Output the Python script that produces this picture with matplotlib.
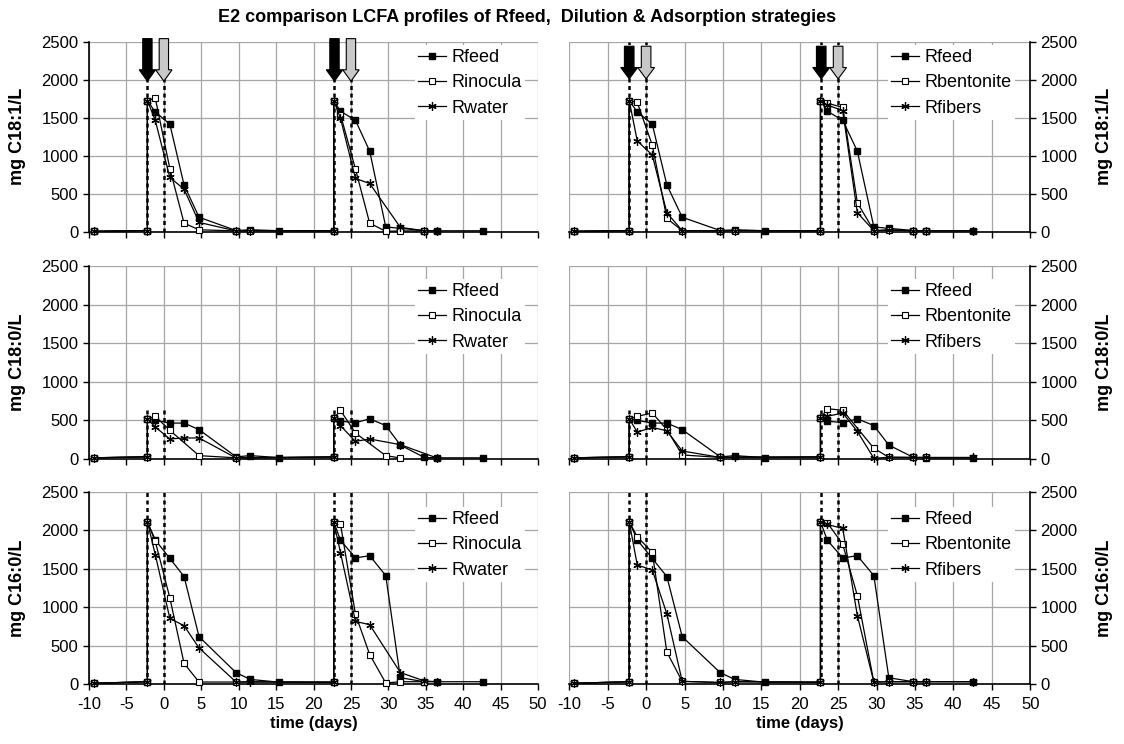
import numpy as np
import matplotlib.pyplot as plt
from matplotlib.patches import FancyArrow

plt.rcParams['font.family'] = ['Liberation Sans', 'DejaVu Sans']
plt.rcParams['axes.unicode_minus'] = False

# sampling days shared by all reactors (two feeding pulses)
days = [-9.4, -2.2, -2.2, -1.15, 0.8, 2.7, 4.7, 9.65, 11.55, 15.45,
        22.7, 22.7, 23.6, 25.6, 27.5, 29.65, 31.6, 34.8, 36.5, 42.6]
nan = np.nan

# C18:1 (mg/L)
rfeed_181 = [5, 15, 1725, 1575, 1415, 615, 190, 15, 25, 12,
             12, 1725, 1585, 1465, 1060, 62, 44, 15, 12, 12]
rinocula_181 = [5, 15, 1725, 1760, 830, 112, 25, 10, 12, nan,
                12, 1725, 1540, 825, 112, 5, 10, 10, nan, nan]
rwater_181 = [5, 15, 1725, 1465, 713, 560, 122, 10, 15, nan,
              12, 1725, 1491, 700, 634, nan, 57, 12, 12, nan]
rbentonite_181 = [5, 15, 1725, 1700, 1140, 175, 13, 12, 15, nan,
                  12, 1725, 1690, 1636, 382, 13, 25, 12, 12, nan]
rfibers_181 = [5, 15, 1725, 1193, 1009, 250, 13, 12, 15, nan,
               12, 1725, 1667, 1592, 250, 13, 20, 12, 12, 12]

# C18:0 (mg/L)
rfeed_180 = [15, 28, 520, 500, 465, 465, 380, 28, 43, 18,
             26, 525, 490, 470, 520, 433, 180, 20, 15, 15]
rinocula_180 = [15, 28, 520, 552, 371, nan, 43, 15, nan, nan,
                26, 525, 629, 336, nan, 43, 13, nan, nan, nan]
rwater_180 = [15, 28, 520, 414, 259, 272, 272, 13, nan, nan,
              26, 525, 431, 228, 259, nan, 185, nan, 13, nan]
rbentonite_180 = [15, 28, 520, 552, 596, 380, 52, 20, nan, nan,
                  26, 525, 652, 630, nan, 139, 22, 20, 20, nan]
rfibers_180 = [15, 28, 520, 348, 409, 365, 104, 20, 25, nan,
               26, 525, 552, 596, 357, 9, 22, 20, 20, 20]

# C16:0 (mg/L)
rfeed_160 = [10, 30, 2113, 1877, 1636, 1400, 617, 148, 60, 24,
             24, 2113, 1872, 1642, 1672, 1412, 82, 30, 30, 30]
rinocula_160 = [10, 30, 2113, 1860, 1123, 269, 26, 26, nan, nan,
                24, 2113, 2084, 910, 384, 13, 30, 30, nan, nan]
rwater_160 = [10, 30, 2113, 1687, 854, 760, 470, 26, 30, nan,
              24, 2113, 1712, 816, 773, nan, 150, 40, 30, nan]
rbentonite_160 = [10, 30, 2113, 1918, 1715, 416, 35, 20, 30, nan,
                  24, 2113, 2100, 1819, 1152, 26, 30, 30, 30, nan]
rfibers_160 = [10, 30, 2113, 1550, 1485, 914, 35, 20, 30, nan,
               24, 2113, 2078, 2026, 892, 26, 30, 30, 30, 30]

ylabels = ['mg C18:1/L', 'mg C18:0/L', 'mg C16:0/L']
left_names = ['Rfeed', 'Rinocula', 'Rwater']
right_names = ['Rfeed', 'Rbentonite', 'Rfibers']
left_data = [[rfeed_181, rinocula_181, rwater_181],
             [rfeed_180, rinocula_180, rwater_180],
             [rfeed_160, rinocula_160, rwater_160]]
right_data = [[rfeed_181, rbentonite_181, rfibers_181],
              [rfeed_180, rbentonite_180, rfibers_180],
              [rfeed_160, rbentonite_160, rfibers_160]]

# feeding / dosing events and height of their dotted markers per row
pulse_days = [-2.2, 0, 22.8, 25]
pulse_top = [2500, 660, 2500]
arrow_colors = ['black', '#c8c8c8', 'black', '#c8c8c8']
arrow_span = [(2540, 1980), (2440, 2010)]   # top, tip for left / right column

styles = [dict(marker='s', ms=4.5, mfc='black', mec='black'),
          dict(marker='s', ms=3.8, mfc='white', mec='black', mew=0.8),
          dict(marker=(6, 2, 0), ms=6, mfc='black', mec='black', mew=0.9)]

fig = plt.figure(figsize=(11.24, 7.44), dpi=100)
row_pos = [(0.6886, 0.2554), (0.3831, 0.2594), (0.0806, 0.2580)]
col_pos = [(0.0792, 0.3995), (0.5065, 0.4100)]
legend_y = [0.98, 0.93, 0.92]
legend_x = [0.972, 0.968]

d = np.array(days)
for r in range(3):
    for c in range(2):
        ax = fig.add_axes([col_pos[c][0], row_pos[r][0], col_pos[c][1], row_pos[r][1]])
        data = left_data[r] if c == 0 else right_data[r]
        names = left_names if c == 0 else right_names
        for vals, name, st in zip(data, names, styles):
            v = np.array(vals, dtype=float)
            m = ~np.isnan(v)
            ax.plot(d[m], v[m], color='black', lw=0.9, label=name, clip_on=False,
                    zorder=4, **st)
        ax.vlines(pulse_days, 0, pulse_top[r], colors='black', lw=1.8,
                  linestyles=(0, (1.6, 1.4)), zorder=3)

        ax.set_xlim(-10, 50)
        ax.set_ylim(0, 2500)
        ax.set_xticks(np.arange(-10, 51, 5))
        ax.set_yticks(np.arange(0, 2501, 500))
        ax.grid(True, color='#a6a6a6', lw=0.9)
        ax.set_axisbelow(True)
        for s in ['top', 'right', 'left']:
            ax.spines[s].set_visible(False)
        ax.spines['bottom'].set_linewidth(1.2)
        ax.tick_params(axis='both', direction='out', length=4, width=1,
                       labelsize=12)
        ax.tick_params(axis='x', pad=5)
        if c == 0:
            ax.spines['left'].set_visible(True)
            ax.spines['left'].set_linewidth(1.2)
            ax.yaxis.set_label_coords(-0.14, 0.5)
        else:
            ax.spines['right'].set_visible(True)
            ax.spines['right'].set_linewidth(1.2)
            ax.yaxis.tick_right()
            ax.yaxis.set_label_position('right')
            ax.yaxis.set_label_coords(1.142, 0.5)
        ax.set_ylabel(ylabels[r], fontsize=13, fontweight='bold')
        if r < 2:
            ax.tick_params(axis='x', labelbottom=False)
        else:
            ax.set_xlabel('time (days)', fontsize=12, fontweight='bold', labelpad=3)

        leg = ax.legend(loc='upper right', bbox_to_anchor=(legend_x[c], legend_y[r]),
                        fontsize=13, frameon=True, fancybox=False,
                        handlelength=1.55, handletextpad=0.3,
                        labelspacing=0.46, borderaxespad=0.0,
                        borderpad=0.2)
        leg.get_frame().set_edgecolor('none')
        leg.get_frame().set_facecolor('white')
        leg.get_frame().set_alpha(1)

        if r == 0:
            top, tip = arrow_span[c]
            for pd_, fc in zip(pulse_days, arrow_colors):
                ax.add_patch(FancyArrow(pd_, top, 0, tip - top, width=1.25,
                                        head_width=2.2, head_length=150,
                                        length_includes_head=True, fc=fc,
                                        ec='black', lw=0.8, clip_on=False,
                                        zorder=6))

fig.text(0.469, 0.976, 'E2 comparison LCFA profiles of Rfeed,  Dilution & Adsorption strategies',
         ha='center', va='center', fontsize=13, fontweight='bold')

fig.savefig('out.png', dpi=100)
